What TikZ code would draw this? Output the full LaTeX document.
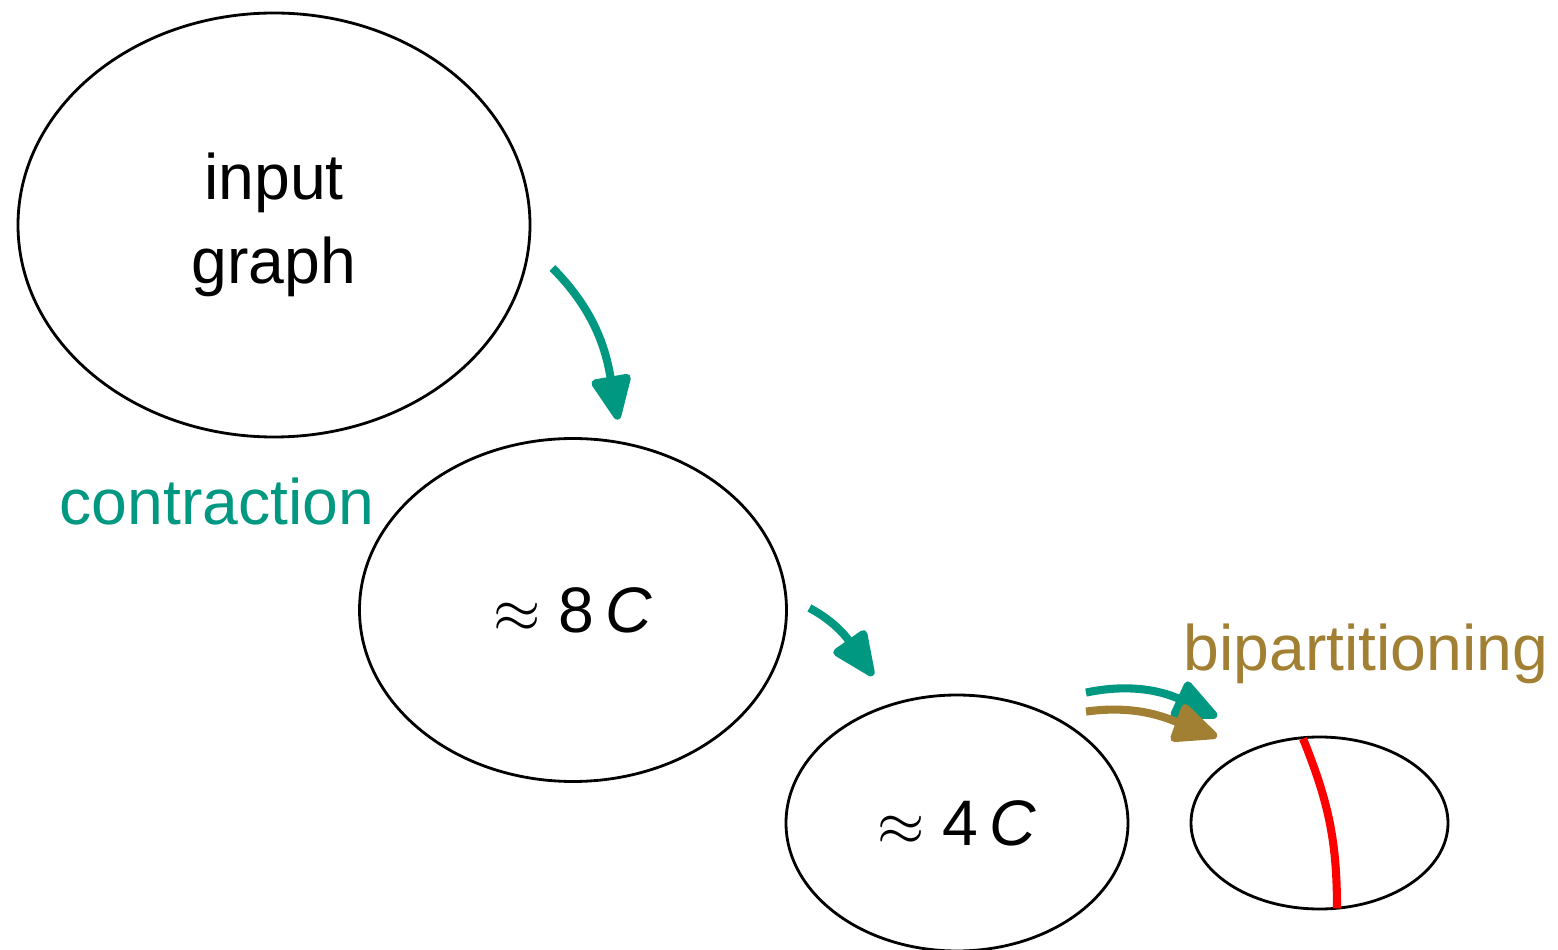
\documentclass[tikz,border=0pt]{standalone}
\usepackage{fontspec}
\setmainfont{Liberation Sans}
\usepackage{tikz}
\usetikzlibrary{shapes,calc,arrows.meta}
\definecolor{contrgreen}{RGB}{0,152,128}
\definecolor{bipgold}{RGB}{161,128,52}

\begin{document}
\begin{tikzpicture}[>={Triangle[length=0.5cm,width=0.42cm,round]},
    every node/.style={font=\fontsize{18.3}{24}\selectfont, inner sep=0pt},
    level/.style={draw, ellipse, line width=0.8pt, align=center},
    contr/.style={->, contrgreen, line width=2.3pt},
    bip/.style={->, bipgold, line width=2.3pt}]

    \useasboundingbox (0,0) rectangle (15.58,9.49);

    % Levels of the hierarchy
    \node[level, minimum width=5.12cm, minimum height=4.24cm] (input) at (2.74,7.24) {input\\graph};
    \node[level, minimum width=4.27cm, minimum height=3.43cm] (c8) at (5.73,3.39) {$\approx$ 8\,\textit{C}};
    \node[level, minimum width=3.42cm, minimum height=2.56cm] (c4) at (9.57,1.26) {$\approx$ 4\,\textit{C}};
    \node[level, minimum width=2.57cm, minimum height=1.72cm] (cut) at (13.195,1.26) {};

    % The cut found on the coarsest graph
    \draw[red, line width=2.3pt] ($(cut.north)+(-0.165,-0.03)$) to[out=-68,in=90] ($(cut.south)+(0.175,0.02)$);

    % Contraction steps
    \draw[contr] ($(input.east)+(0.21,-0.43)$) to[out=-45,in=100] ($(c8.north)+(0.45,0.175)$);
    \draw[contr] ($(c8.east)+(0.215,0.02)$) to[out=-28,in=125] ($(c4.north)+(-0.84,0.18)$);
    \draw[contr] ($(c4.north)+(1.29,0.01)$) to[out=12,in=155] ($(cut.north)+(-1.025,0.19)$);

    % Bipartitioning step
    \draw[bip] ($(c4.north)+(1.29,-0.18)$) to[out=8,in=160] ($(cut.north)+(-1.025,-0.01)$);

    % Labels
    \node[contrgreen, anchor=base east] at ([xshift=0.17cm, yshift=0.85cm]c8.west) {contraction};
    \node[bipgold, anchor=base] at ([xshift=0.465cm, yshift=0.65cm]cut.north) {bipartitioning};
\end{tikzpicture}
\end{document}
